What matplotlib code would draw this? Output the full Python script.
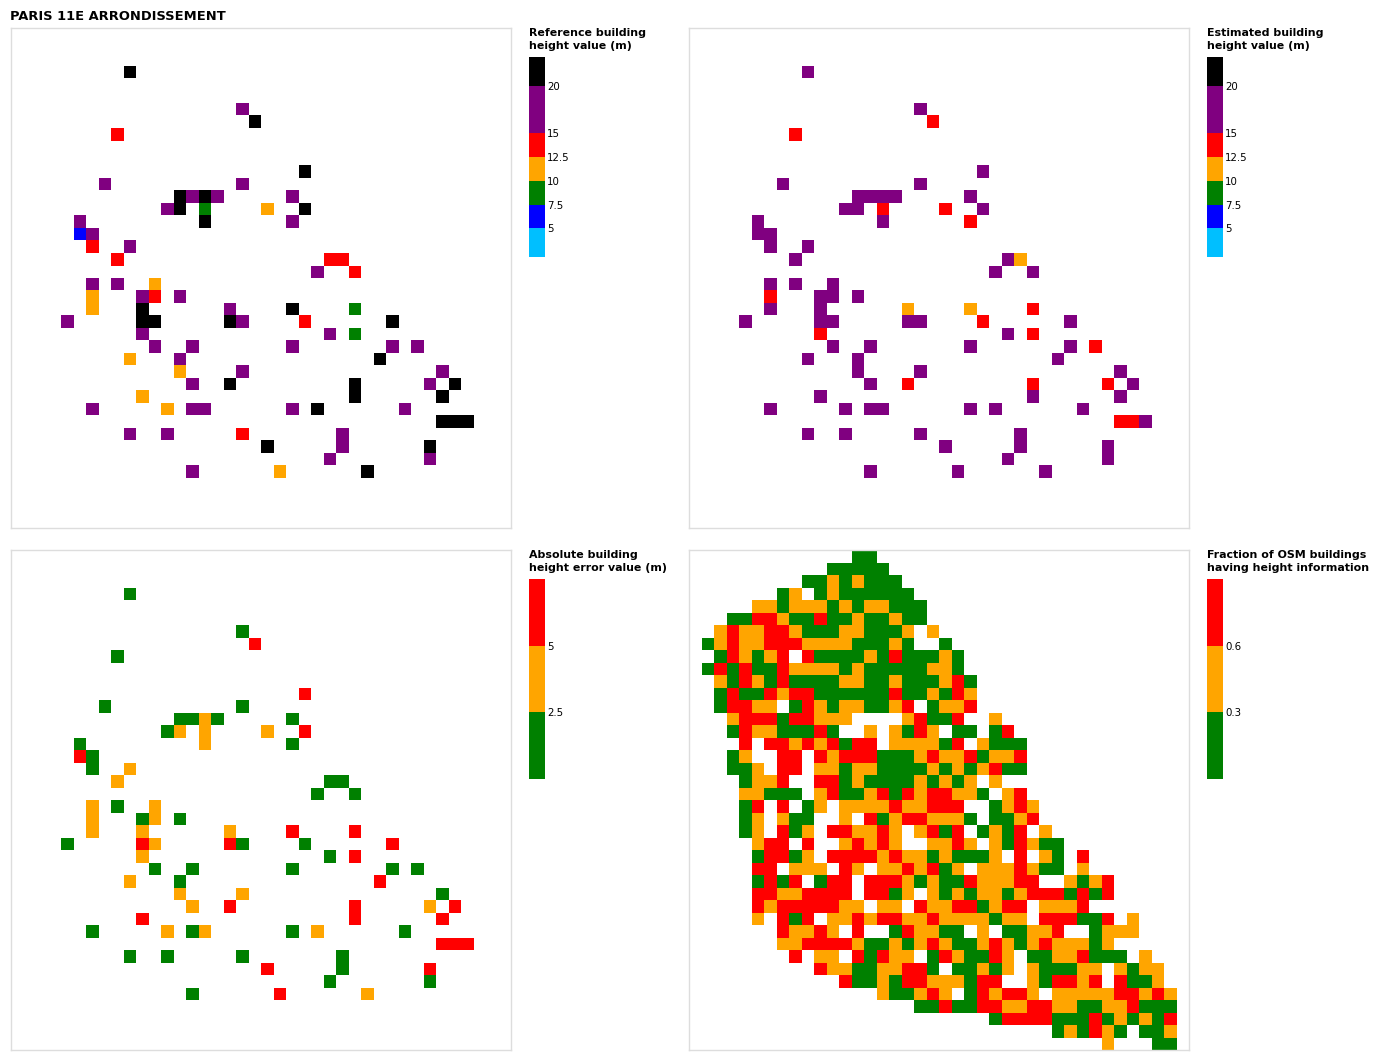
import numpy as np
import matplotlib
matplotlib.use("Agg")
import matplotlib.pyplot as plt
from matplotlib.colors import ListedColormap, BoundaryNorm
from matplotlib.cm import ScalarMappable

TITLE = "PARIS 11E ARRONDISSEMENT"
N_CELLS = 40

# Sampled cells shared by the reference / estimated / error panels
cell_row = [3, 6, 7, 8, 11, 12, 12,
            13, 13, 13, 13, 13,
            14, 14, 14, 14, 14,
            15, 15, 15,
            16, 16, 17, 17,
            18, 18, 18, 19, 19,
            20, 20, 20,
            21, 21, 21, 21,
            22, 22, 22, 22, 22,
            23, 23, 23, 23, 23, 23, 23,
            24, 24, 24,
            25, 25, 25, 25, 25,
            26, 26, 26,
            27, 27, 27,
            28, 28, 28, 28, 28,
            29, 29, 29,
            30, 30, 30, 30, 30, 30, 30,
            31, 31, 31,
            32, 32, 32, 32,
            33, 33, 33,
            34, 34,
            35, 35, 35]
cell_col = [9, 18, 19, 8, 23, 7, 18,
            13, 14, 15, 16, 22,
            12, 13, 15, 20, 23,
            5, 15, 22,
            5, 6, 6, 9,
            8, 25, 26, 24, 27,
            6, 8, 11,
            6, 10, 11, 13,
            6, 10, 17, 22, 27,
            4, 10, 11, 17, 18, 23, 30,
            10, 25, 27,
            11, 14, 22, 30, 32,
            9, 13, 29,
            13, 18, 34,
            14, 17, 27, 33, 35,
            10, 27, 34,
            6, 12, 14, 15, 22, 24, 31,
            34, 35, 36,
            9, 12, 18, 26,
            20, 26, 33,
            25, 33,
            14, 21, 28]
# Height / error classes read per cell, in the order above
ref_class = ("KPKRKPP" "KPKPP" "PKGOK" "PKP" "BPRP" "RRRPR" "PPO" "OPRP" "OKPKG"
             "PKKKPRK" "PPG" "PPPPP" "OPK" "OPP" "PKKPK" "OKK" "POPPPKP" "KKK"
             "PPRP" "KPK" "PP" "POK")
est_class = ("PPRRPPP" "PPPPP" "PPRRP" "PPR" "PPPP" "PPOPP" "PPP" "RPPP" "PPOOR"
             "PPPPPRP" "RPR" "PPPPR" "PPP" "PPP" "PRRRP" "PPP" "PPPPPPP" "RRP"
             "PPPP" "PPP" "PP" "PPP")
err_class = ("GGRGRGG" "GGOGG" "GOOOR" "GOG" "RGGO" "OGGGG" "OGO" "OGOG" "OOORR"
             "GRORGGR" "OGR" "GGGGG" "OGR" "OOG" "ORROR" "RRR" "GOGOGOG" "RRR"
             "GGGG" "RGR" "GG" "GRO")

# Fraction panel: one string per grid row, first filled column in frac_start
frac_start = [13, 11, 9, 7, 5, 3, 2, 1, 2, 1, 2, 2, 2, 3, 3, 4, 3, 3, 4, 4,
              4, 4, 4, 5, 5, 5, 5, 5, 5, 5, 7, 7, 8, 10, 12, 15, 18, 24, 29, 33]
frac_class = [
    "GG",
    "GGGGG",
    "GGOGOGGG",
    "GO.GOGGGGGG",
    "OOGOOOGOGOOGGG",
    "GGRROGGRGGOGGOGG",
    "OROORROGGGOOGGGO.O",
    "GOROORRROOOOGGGOG..G",
    "GROGOR.RGGGGOGRGGGOG",
    "GRGRGGROOOOGOGGGGGOOG",
    "OGROGRGGGGOOGGOGGGORG",
    "GRGGRORRGGGGGGRGGOGRO",
    "GRROO.GROGOOGGOR.GOOR",
    "ORRRGRROOO....ORGGR..O",
    "GROOGGGRG..O.OGRO.GG.GR",
    "R.RRORORGRR.OOOOGR.OGGG",
    "GO..RR.RORRRGGGOROORGOOR",
    "GGO.RR.OOGOOGGGGOGOGORGG",
    "GOOR..RRGOGGGGOGOGO.O",
    "OOGGG.ORGGORGRORROOG.OR",
    "GR.R.GO.OOOOROORRR..GORO",
    "GO.OGG..O.RGORROOOG.GGOR",
    "GO.RGO.RROORO.ORGR.GOGR.O",
    "ORR.R..ORORO..OORO.OGROGG",
    "GRRGO.RRRROROOGOGGGO.R.OG.R",
    "RR.OOO.RO.OOROR" "GO.OOOROGG.O",
    "GRGR.GRR.RRROGO" "GGROOORR..OGOR",
    "RROORRRR.RRGO.O" "GOGOOGORRRGRGR",
    "RORRRRROO.OO.RO" "ORRGORR.OOOR",
    "O.RGR.OOROR" "ROOR" "OOOOGOO.RRRGGR.O",
    "ROOR" "O.R..GROO" "GG.O.GGOOR..GOOO",
    "OORRRROGGOGOR" "OGGOROGOROOOGO",
    "R.OO.RGROO.G" "ROGGRO.GGOORGGG.O",
    "ROOGGOORRG" ".GGOGO.OGGGOO.OGOO",
    "RGGOGRRO" "OOGRR..OGRRO" "R.RGGO",
    "OGGOR" "O.GRORRO.OOOOORRORO",
    "GG" "RGGRROORROOGGOORGGG",
    "GRRRRGGGRGOGOGR",
    "GOGROG.GGO",
    "O...GG",
]

# Colour scales
height_bounds = [2, 5, 7.5, 10, 12.5, 15, 20, 23]
height_colors = ["#00bfff", "#0000ff", "#008000", "#ffa500", "#ff0000", "#800080", "#000000"]
height_ticks = [5, 7.5, 10, 12.5, 15, 20]
height_labels = ["5", "7.5", "10", "12.5", "15", "20"]
height_mid = {"B": 6.25, "G": 8.75, "O": 11.25, "R": 13.75, "P": 17.5, "K": 21.5}

error_bounds = [0, 2.5, 5, 7.5]
error_colors = ["#008000", "#ffa500", "#ff0000"]
error_ticks = [2.5, 5]
error_labels = ["2.5", "5"]
error_mid = {"G": 1.25, "O": 3.75, "R": 6.25}

frac_bounds = [0, 0.3, 0.6, 0.9]
frac_ticks = [0.3, 0.6]
frac_labels = ["0.3", "0.6"]
frac_mid = {"G": 0.15, "O": 0.45, "R": 0.75}

W, H = 1381, 1063
plt.rcParams["font.family"] = "DejaVu Sans"
fig = plt.figure(figsize=(W / 100, H / 100), dpi=100)


def box(x, y, w, h):
    return [x / W, 1 - (y + h) / H, w / W, h / H]


def sparse_grid(classes, mid):
    grid = np.full((N_CELLS, N_CELLS), np.nan)
    for r, c, k in zip(cell_row, cell_col, classes):
        grid[r, c] = mid[k]
    return grid


def frac_grid():
    grid = np.full((N_CELLS, N_CELLS), np.nan)
    for r, (s, row) in enumerate(zip(frac_start, frac_class)):
        for i, k in enumerate(row):
            if k != ".":
                grid[r, s + i] = frac_mid[k]
    return grid


def panel(x, y, grid, colors, bounds, ticks, labels, legend):
    cmap = ListedColormap(colors)
    norm = BoundaryNorm(bounds, cmap.N)
    ax = fig.add_axes(box(x, y, 500, 500))
    edges = np.arange(N_CELLS + 1)
    ax.pcolormesh(edges, edges, np.ma.masked_invalid(grid), cmap=cmap, norm=norm,
                  edgecolors="none", linewidth=0, antialiased=True)
    ax.set_xlim(0, N_CELLS)
    ax.set_ylim(N_CELLS, 0)
    ax.set_xticks([])
    ax.set_yticks([])
    for s in ax.spines.values():
        s.set_color("#dddddd")
        s.set_linewidth(1.0)
    cax = fig.add_axes(box(x + 518, y + 29, 16, 200))
    cb = fig.colorbar(ScalarMappable(norm=norm, cmap=cmap), cax=cax,
                      spacing="proportional", ticks=ticks)
    cb.set_ticklabels(labels)
    cb.minorticks_off()
    cb.outline.set_visible(False)
    cb.dividers.set_visible(False)
    cax.tick_params(length=0, pad=1.5, labelsize=7.4)
    for lab in cax.get_yticklabels():
        lab.set_verticalalignment("center_baseline")
    fig.text((x + 518) / W, 1 - (y + 11.5) / H, legend, fontsize=7.93, fontweight="bold",
             ha="left", va="center", linespacing=1.45)


panel(11, 28, sparse_grid(ref_class, height_mid), height_colors, height_bounds,
      height_ticks, height_labels, "Reference building\nheight value (m)")
panel(689, 28, sparse_grid(est_class, height_mid), height_colors, height_bounds,
      height_ticks, height_labels, "Estimated building\nheight value (m)")
panel(11, 550, sparse_grid(err_class, error_mid), error_colors, error_bounds,
      error_ticks, error_labels, "Absolute building\nheight error value (m)")
panel(689, 550, frac_grid(), error_colors, frac_bounds,
      frac_ticks, frac_labels, "Fraction of OSM buildings\nhaving height information")

fig.text(10 / W, 1 - 16 / H, TITLE, fontsize=9.35, fontweight="bold", ha="left", va="center")

assert len(cell_row) == len(cell_col) == len(ref_class) == len(est_class) == len(err_class), (
    len(cell_row), len(cell_col), len(ref_class), len(est_class), len(err_class))
fig.savefig("out.png", dpi=100, facecolor="white")
